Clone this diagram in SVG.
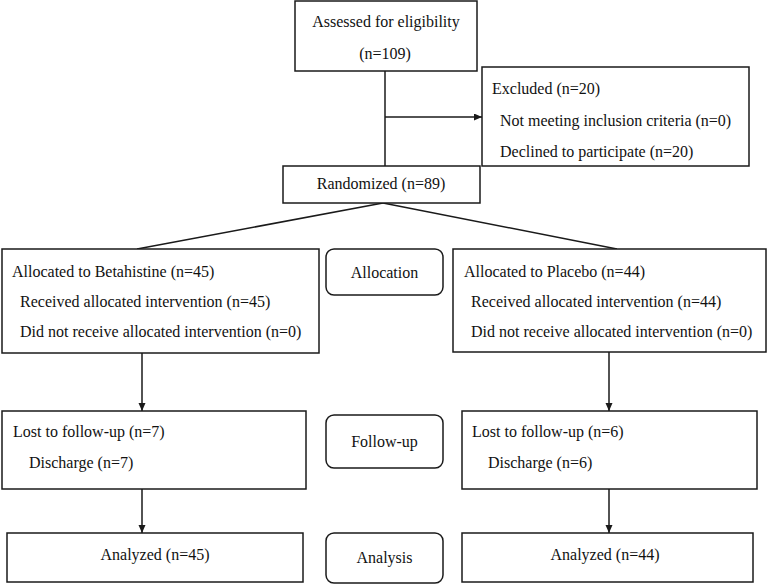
<svg xmlns="http://www.w3.org/2000/svg" width="767" height="584" viewBox="0 0 767 584" font-family="'Liberation Serif', 'DejaVu Serif', serif">
<style>
.box{fill:#fff;stroke:#1a1a1a;stroke-width:1.5}
.lbl{fill:#fff;stroke:#1a1a1a;stroke-width:1.5}
text{font-family:'Liberation Serif','DejaVu Serif',serif;font-size:16px;fill:#111}
.c{text-anchor:middle}
.ln{stroke:#1a1a1a;stroke-width:1.5;fill:none}
</style>
<defs>
<marker id="ah" markerUnits="userSpaceOnUse" markerWidth="9" markerHeight="8" refX="8" refY="3.5" orient="auto">
<path d="M0,0 L8,3.5 L0,7 z" fill="#1a1a1a"/>
</marker>
</defs>
<rect width="767" height="584" fill="#fff"/>
<g id="connectors">
<line class="ln" x1="385" y1="71" x2="385" y2="166"/>
<line class="ln" x1="385" y1="117" x2="482" y2="117" marker-end="url(#ah)"/>
<line class="ln" x1="383" y1="203" x2="137" y2="249"/>
<line class="ln" x1="383" y1="203" x2="617" y2="249"/>
<line class="ln" x1="142" y1="353" x2="142" y2="411" marker-end="url(#ah)"/>
<line class="ln" x1="609" y1="352" x2="609" y2="411" marker-end="url(#ah)"/>
<line class="ln" x1="142" y1="489" x2="142" y2="533" marker-end="url(#ah)"/>
<line class="ln" x1="609" y1="489" x2="609" y2="533" marker-end="url(#ah)"/>
</g>
<g id="assessed">
<rect class="box" x="295" y="1" width="182" height="70"/>
<text class="c" x="386" y="27">Assessed for eligibility</text>
<text class="c" x="385" y="59">(n=109)</text>
</g>
<g id="excluded">
<rect class="box" x="482" y="67" width="267" height="99"/>
<text x="492" y="94">Excluded (n=20)</text>
<text x="500" y="126">Not meeting inclusion criteria (n=0)</text>
<text x="500" y="157">Declined to participate (n=20)</text>
</g>
<g id="randomized">
<rect class="box" x="283" y="166" width="197" height="37"/>
<text class="c" x="381" y="189">Randomized (n=89)</text>
</g>
<g id="alloc-betahistine">
<rect class="box" x="2" y="249" width="317" height="104"/>
<text x="12" y="277">Allocated to Betahistine (n=45)</text>
<text x="20" y="307">Received allocated intervention (n=45)</text>
<text x="20" y="337">Did not receive allocated intervention (n=0)</text>
</g>
<g id="allocation-label">
<rect class="lbl" x="326" y="249" width="117" height="46" rx="8"/>
<text class="c" x="384.5" y="278">Allocation</text>
</g>
<g id="alloc-placebo">
<rect class="box" x="453" y="249" width="313" height="103"/>
<text x="464" y="277">Allocated to Placebo (n=44)</text>
<text x="471" y="307">Received allocated intervention (n=44)</text>
<text x="471" y="337">Did not receive allocated intervention (n=0)</text>
</g>
<g id="followup-betahistine">
<rect class="box" x="2" y="411" width="304" height="78"/>
<text x="13" y="437">Lost to follow-up (n=7)</text>
<text x="29" y="468">Discharge (n=7)</text>
</g>
<g id="followup-label">
<rect class="lbl" x="326" y="415" width="117" height="53" rx="8"/>
<text class="c" x="384.5" y="447">Follow-up</text>
</g>
<g id="followup-placebo">
<rect class="box" x="462" y="411" width="295" height="78"/>
<text x="472" y="437">Lost to follow-up (n=6)</text>
<text x="488" y="468">Discharge (n=6)</text>
</g>
<g id="analyzed-betahistine">
<rect class="box" x="7" y="533" width="296" height="49"/>
<text class="c" x="155" y="560">Analyzed (n=45)</text>
</g>
<g id="analysis-label">
<rect class="lbl" x="326" y="533" width="117" height="50" rx="8"/>
<text class="c" x="384.5" y="563">Analysis</text>
</g>
<g id="analyzed-placebo">
<rect class="box" x="462" y="533" width="291" height="49"/>
<text class="c" x="605" y="560">Analyzed (n=44)</text>
</g>
</svg>
